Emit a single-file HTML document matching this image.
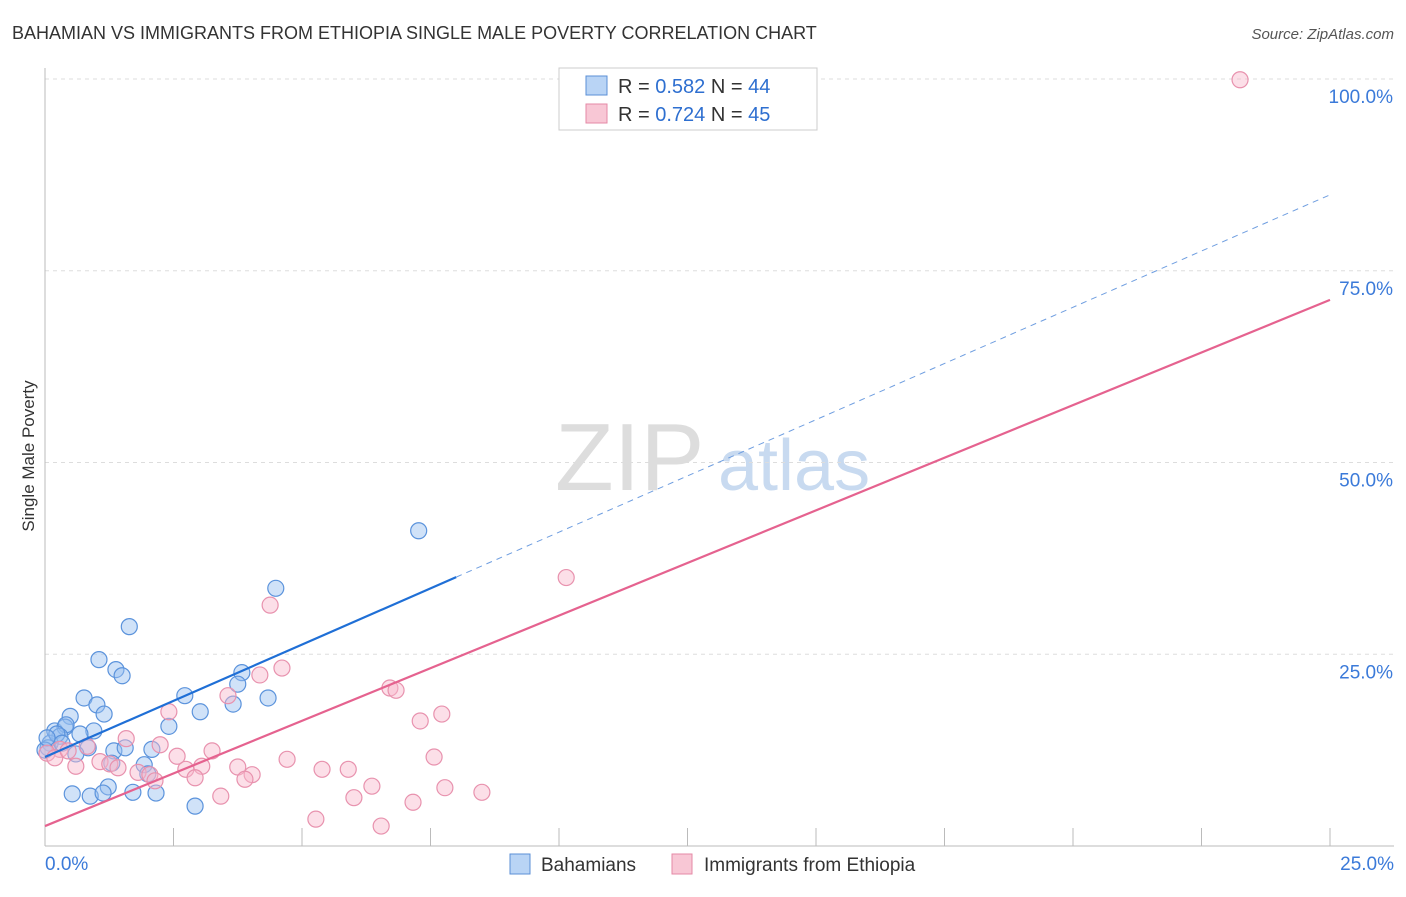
<!DOCTYPE html>
<html><head><meta charset="utf-8"><style>
body{margin:0;background:#fff;font-family:"Liberation Sans",sans-serif}
svg text{font-family:"Liberation Sans",sans-serif}
</style></head><body>
<svg id="chart" width="1406" height="892" viewBox="0 0 1406 892">
<text x="12" y="39" font-size="18" fill="#333">BAHAMIAN VS IMMIGRANTS FROM ETHIOPIA SINGLE MALE POVERTY CORRELATION CHART</text>
<text x="1394" y="39" font-size="15" fill="#555" text-anchor="end" font-style="italic">Source: ZipAtlas.com</text>
<text x="34" y="456" font-size="17" fill="#333" text-anchor="middle" transform="rotate(-90 34 456)">Single Male Poverty</text>
<g>
<text x="555" y="490" font-size="96" fill="#ddd" font-family="Liberation Serif">ZIP</text>
<text x="718" y="490" font-size="72" fill="#c8daf0">atlas</text>
</g>
<g id="grid"></g><g id="axes"></g><g id="pts"></g><g id="lines"></g>
<g>
<rect x="559" y="68" width="258" height="62" fill="#fff" stroke="#ccc"/>
<rect x="586" y="76" width="21" height="19" fill="#b9d4f5" stroke="#5b8fd6"/>
<text x="618" y="93" font-size="20" fill="#333">R = <tspan fill="#2e6fd0">0.582</tspan>   N = <tspan fill="#2e6fd0">44</tspan></text>
<rect x="586" y="104" width="21" height="19" fill="#f8c7d5" stroke="#e589a6"/>
<text x="618" y="121" font-size="20" fill="#333">R = <tspan fill="#2e6fd0">0.724</tspan>   N = <tspan fill="#2e6fd0">45</tspan></text>
</g>
<g>
<rect x="510" y="854" width="20" height="20" fill="#b9d4f5" stroke="#5b8fd6"/>
<text x="541" y="871" font-size="19" fill="#333">Bahamians</text>
<rect x="672" y="854" width="20" height="20" fill="#f8c7d5" stroke="#e589a6"/>
<text x="704" y="871" font-size="19" fill="#333">Immigrants from Ethiopia</text>
</g>
</svg>
<script>
const blueX=[7.27,4.49,1.64,1.05,1.38,1.50,3.83,3.75,2.72,3.66,4.34,0.76,1.01,3.02,1.15,0.49,2.41,0.19,0.39,0.41,0.95,0.68,0.29,0.10,0.06,0.84,1.34,1.56,2.08,1.30,1.93,0.60,2.00,2.16,1.71,1.23,0.53,0.88,1.13,2.92,0.23,0.00,0.33,0.04];
const blueY=[41.1,33.6,28.6,24.3,23.0,22.2,22.6,21.1,19.6,18.5,19.3,19.3,18.4,17.5,17.2,16.9,15.6,15.0,15.5,15.8,15.0,14.6,14.3,13.4,12.8,12.8,12.4,12.8,12.6,10.8,10.6,12.0,9.4,6.9,7.0,7.7,6.8,6.5,6.9,5.2,14.6,12.5,13.4,14.1];
const pinkX=[23.25,10.14,4.38,4.61,4.18,6.71,6.83,2.41,7.72,7.30,3.56,7.57,1.58,2.24,0.82,0.29,0.04,0.19,0.60,1.07,1.26,1.42,2.57,3.25,4.71,2.74,3.05,3.75,4.03,5.39,5.90,1.81,2.04,2.92,3.89,7.78,8.50,6.36,6.01,7.16,3.42,5.27,6.54,0.45,2.14];
const pinkY=[99.9,35.0,31.4,23.2,22.3,20.6,20.3,17.5,17.2,16.3,19.6,11.6,14.0,13.2,13.0,12.6,12.1,11.5,10.4,11.0,10.7,10.2,11.7,12.4,11.3,10.0,10.4,10.3,9.3,10.0,10.0,9.6,9.3,8.9,8.7,7.6,7.0,7.8,6.3,5.7,6.5,3.5,2.6,12.4,8.5];
const blueLine=[0,11.6,8.0,84.9];// x0,y@0,x solid end,y@25
const pinkLine=[2.6,71.2];
const yTicks=[25,50,75,100];
const xTickVals=[0,2.5,5,7.5,10,12.5,15,17.5,20,22.5,25];
const NS='http://www.w3.org/2000/svg';
const X=v=>45+v/25*1285, Y=v=>846-v*7.67;
function mk(t,a,p){const e=document.createElementNS(NS,t);for(const k in a)e.setAttribute(k,a[k]);p.appendChild(e);return e;}
const grid=document.getElementById('grid'),axes=document.getElementById('axes'),pts=document.getElementById('pts'),lines=document.getElementById('lines');
yTicks.forEach(v=>{const l=mk('line',{x1:45,x2:1394,y1:Y(v),y2:Y(v),stroke:'#ddd','stroke-dasharray':'4,4'},grid);

const t=mk('text',{x:1393,y:Y(v)+24,'font-size':19,fill:'#3b7ad9','text-anchor':'end'},axes);t.textContent=v.toFixed(1)+'%';
});
const ax=mk('line',{x1:45,x2:45,y1:68,y2:846,stroke:'#bbb'},axes);
const bx=mk('line',{x1:45,x2:1394,y1:846,y2:846,stroke:'#bbb'},axes);
xTickVals.forEach(v=>{const l=mk('line',{x1:X(v),x2:X(v),y1:828,y2:846,stroke:'#bbb'},axes);});
[[0,'start',45],[25,'end',1394]].forEach(([v,a,x])=>{const t=mk('text',{x:x,y:870,'font-size':19,fill:'#3b7ad9','text-anchor':a},axes);t.textContent=v.toFixed(1)+'%';
});
blueX.forEach((v,i)=>{const c=mk('circle',{cx:X(v),cy:Y(blueY[i]),r:8,fill:'rgba(150,190,240,0.45)',stroke:'#5b93dc','stroke-width':1.2},pts);
});
pinkX.forEach((v,i)=>{const c=mk('circle',{cx:X(v),cy:Y(pinkY[i]),r:8,fill:'rgba(248,185,205,0.45)',stroke:'#e892ae','stroke-width':1.2},pts);
});
const bY=x=>blueLine[1]+(blueLine[3]-blueLine[1])*x/25;
let l=mk('line',{x1:X(0),y1:Y(bY(0)),x2:X(blueLine[2]),y2:Y(bY(blueLine[2])),stroke:'#1f6fd6','stroke-width':2.2},lines);

l=mk('line',{x1:X(blueLine[2]),y1:Y(bY(blueLine[2])),x2:X(25),y2:Y(bY(25)),stroke:'#6f9ee0','stroke-width':1,'stroke-dasharray':'6,5'},lines);

l=mk('line',{x1:X(0),y1:Y(pinkLine[0]),x2:X(25),y2:Y(pinkLine[1]),stroke:'#e5628f','stroke-width':2.2},lines);

</script>
</body></html>
